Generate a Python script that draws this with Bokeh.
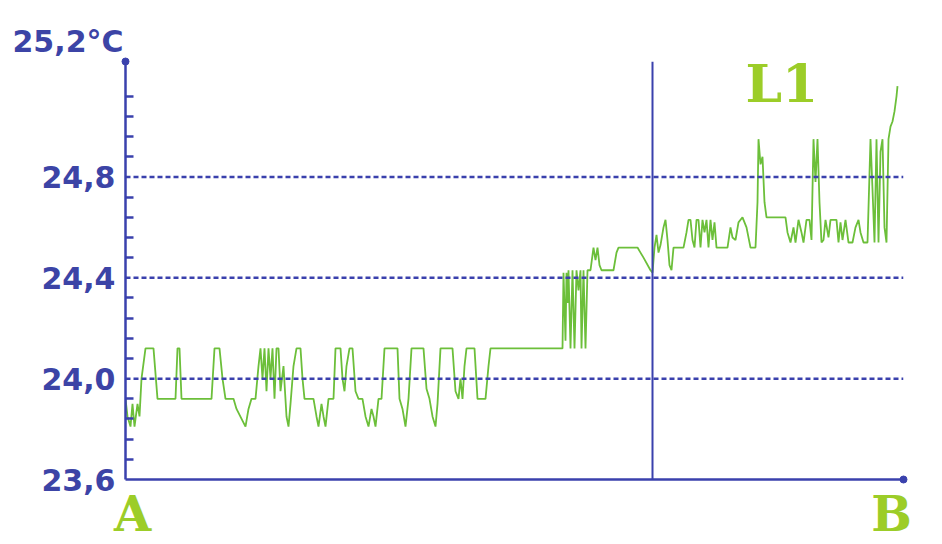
from bokeh.plotting import figure
from bokeh.models import Range1d, LinearAxis, FixedTicker, Span, Label
from bokeh.embed import file_html
from bokeh.resources import INLINE

# ---- data (sample index, temperature in °C) ----
samples = [0, 2, 5, 7, 9, 12, 14, 16, 20, 28, 32, 50, 52, 54, 56, 86, 89, 94, 97, 100,
           108, 111, 120, 123, 126, 130, 133, 135, 137, 139, 141, 143, 145, 147, 149, 151,
           153, 155, 158, 161, 163, 165, 168, 171, 175, 177, 179, 188, 191, 193, 196, 198,
           200, 203, 208, 210, 215, 217, 219, 221, 224, 227, 230, 233, 237, 240, 243, 246,
           248, 250, 253, 256, 259, 272, 274, 277, 280, 283, 286, 298, 301, 304, 307, 310,
           312, 315, 327, 330, 333, 335, 337, 339, 341, 349, 352, 360, 363, 365, 437, 438,
           440, 441, 442, 443, 445, 447, 449, 451, 453, 455, 456, 458, 460, 462, 465, 468,
           470, 472, 474, 476, 488, 491, 493, 512, 515, 518, 525, 527, 529, 531, 533, 535,
           538, 540, 542, 544, 546, 548, 558, 561, 563, 565, 567, 569, 571, 573, 575, 577,
           579, 581, 583, 585, 587, 589, 591, 602, 605, 607, 610, 613, 617, 621, 625, 630,
           632, 633, 635, 637, 639, 641, 660, 662, 665, 668, 670, 673, 676, 678, 681, 684,
           686, 688, 690, 692, 694, 696, 698, 700, 703, 705, 711, 713, 715, 717, 720, 723,
           727, 730, 733, 735, 738, 742, 745, 747, 749, 751, 753, 755, 757, 759, 761, 763,
           765, 767, 769, 771, 772]
temps = [23.92, 23.85, 23.81, 23.90, 23.81, 23.90, 23.85, 24.00, 24.12, 24.12, 23.92, 23.92,
         24.12, 24.12, 23.92, 23.92, 24.12, 24.12, 24.00, 23.92, 23.92, 23.88, 23.81, 23.88,
         23.92, 23.92, 24.05, 24.12, 24.00, 24.12, 23.95, 24.12, 24.00, 24.12, 23.92, 24.12,
         24.12, 23.95, 24.05, 23.85, 23.81, 23.90, 24.05, 24.12, 24.12, 24.00, 23.92, 23.92,
         23.85, 23.81, 23.90, 23.85, 23.81, 23.92, 23.92, 24.12, 24.12, 24.00, 23.95, 24.05,
         24.12, 24.12, 23.95, 23.92, 23.92, 23.85, 23.81, 23.88, 23.85, 23.81, 23.92, 23.92,
         24.12, 24.12, 23.92, 23.88, 23.81, 23.92, 24.12, 24.12, 23.96, 23.92, 23.85, 23.81,
         23.90, 24.12, 24.12, 23.95, 23.92, 24.00, 23.92, 24.05, 24.12, 24.12, 23.92, 23.92,
         24.05, 24.12, 24.12, 24.42, 24.15, 24.42, 24.30, 24.43, 24.12, 24.43, 24.12, 24.43,
         24.35, 24.43, 24.12, 24.43, 24.12, 24.43, 24.43, 24.52, 24.47, 24.52, 24.45, 24.43,
         24.43, 24.50, 24.52, 24.52, 24.50, 24.48, 24.43, 24.42, 24.52, 24.57, 24.50, 24.53,
         24.60, 24.63, 24.55, 24.45, 24.43, 24.52, 24.52, 24.58, 24.63, 24.63, 24.55, 24.52,
         24.63, 24.63, 24.52, 24.63, 24.58, 24.63, 24.52, 24.63, 24.55, 24.62, 24.52, 24.52,
         24.60, 24.56, 24.55, 24.62, 24.64, 24.60, 24.52, 24.52, 24.70, 24.95, 24.85, 24.88,
         24.70, 24.64, 24.64, 24.58, 24.54, 24.60, 24.54, 24.63, 24.58, 24.54, 24.63, 24.63,
         24.55, 24.95, 24.78, 24.95, 24.70, 24.54, 24.55, 24.63, 24.56, 24.63, 24.63, 24.54,
         24.62, 24.55, 24.63, 24.54, 24.54, 24.60, 24.63, 24.58, 24.54, 24.54, 24.95, 24.75,
         24.54, 24.95, 24.54, 24.90, 24.95, 24.60, 24.54, 24.95, 25.00, 25.02, 25.06, 25.12,
         25.16]

y_ticks = [23.6, 24.0, 24.4, 24.8]
y_tick_labels = ["23,6", "24,0", "24,4", "24,8"]
y_minor = [23.68, 23.76, 23.84, 23.92, 24.08, 24.16, 24.24, 24.32, 24.48, 24.56,
           24.64, 24.72, 24.88, 24.96, 25.04, 25.12]
grid_levels = [24.0, 24.4, 24.8]
marker_sample = 527
ends = [7, 766]
end_names = ["A", "B"]
unit_label = "25,2°C"
series_name = "L1"

X_END = 778
Y_MIN, Y_MAX = 23.6, 25.258

BLUE = "#3a41ad"
TXT_BLUE = "#3c44a6"
GREEN_LINE = "#6cbf3a"
GREEN_TXT = "#9ccd28"

p = figure(width=942, height=544, output_backend="svg", toolbar_location=None,
           x_range=Range1d(0, X_END), y_range=Range1d(Y_MIN, Y_MAX),
           min_border_left=125, min_border_right=39, min_border_top=61,
           min_border_bottom=63, x_axis_type=None, y_axis_type=None)
p.outline_line_color = None
p.background_fill_color = "white"
p.border_fill_color = "white"
p.xgrid.visible = False
p.ygrid.visible = False

# title used as the unit label above the y axis
p.title.text = unit_label
p.title.align = "left"
p.title.offset = -113
p.title.standoff = 5
p.title.text_font = "DejaVu Sans"
p.title.text_font_style = "bold"
p.title.text_font_size = "30px"
p.title.text_color = TXT_BLUE

# y axis: line, minor ticks, labels
yax = LinearAxis(ticker=FixedTicker(ticks=y_ticks, minor_ticks=y_minor))
yax.major_label_overrides = dict(zip(y_ticks, y_tick_labels))
yax.axis_line_color = BLUE
yax.axis_line_width = 2.5
yax.major_tick_line_color = None
yax.major_tick_in = 0
yax.major_tick_out = 0
yax.minor_tick_line_color = BLUE
yax.minor_tick_line_width = 2.5
yax.minor_tick_in = 8
yax.minor_tick_out = 0
yax.major_label_standoff = 10
yax.major_label_text_font = "DejaVu Sans"
yax.major_label_text_font_style = "bold"
yax.major_label_text_font_size = "30px"
yax.major_label_text_color = TXT_BLUE
p.add_layout(yax, "left")

# x axis: plain line with the end names as labels
xax = LinearAxis(ticker=FixedTicker(ticks=ends))
xax.major_label_overrides = dict(zip(ends, end_names))
xax.axis_line_color = BLUE
xax.axis_line_width = 2.5
xax.major_tick_line_color = None
xax.major_tick_in = 0
xax.major_tick_out = 0
xax.minor_tick_line_color = None
xax.major_label_standoff = 6
xax.major_label_text_font = "DejaVu Serif"
xax.major_label_text_font_style = "bold"
xax.major_label_text_font_size = "48px"
xax.major_label_text_color = GREEN_TXT
p.add_layout(xax, "below")

for lv in grid_levels:
    p.add_layout(Span(location=lv, dimension="width", line_color=BLUE,
                      line_width=2.5, line_dash="5 3"))
p.add_layout(Span(location=marker_sample, dimension="height", line_color=BLUE,
                  line_width=2))

p.line(samples, temps, line_color=GREEN_LINE, line_width=1.8)

p.scatter([0, X_END], [Y_MAX, Y_MIN], size=7, color=BLUE, level="overlay")

p.add_layout(Label(x=620, y=25.17, text=series_name, text_font="DejaVu Serif",
                   text_font_style="bold", text_font_size="52px",
                   text_color=GREEN_TXT, text_baseline="alphabetic"))

open("out.html", "w").write(file_html(p, INLINE))
